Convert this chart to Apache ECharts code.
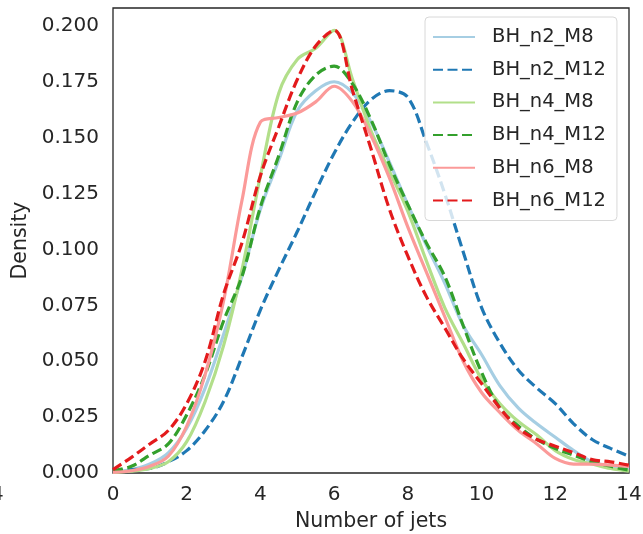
<!DOCTYPE html>
<html>
<head>
<meta charset="utf-8">
<script src="https://cdn.jsdelivr.net/npm/echarts@6/dist/echarts.min.js"></script>
<style>
html,body{margin:0;padding:0;background:#fff;}
#chart{width:643px;height:534px;}
</style>
</head>
<body>
<div id="chart"></div>
<script>
// x grid (number of jets)
const xs = [0,0.5,1,1.5,2,2.5,3,3.5,4,4.5,5,5.5,6,6.5,7,7.5,8,8.5,9,9.5,10,10.5,11,11.5,12,12.5,13,13.5,14];
const xTicks = [0,2,4,6,8,10,12,14];
const yTicks = [0,0.025,0.05,0.075,0.1,0.125,0.15,0.175,0.2];

const seriesNames = ['BH_n2_M8','BH_n2_M12','BH_n4_M8','BH_n4_M12','BH_n6_M8','BH_n6_M12'];

const n2_M8  = [0.0005,0.0015,0.004,0.009,0.020,0.038,0.062,0.088,0.118,0.140,0.162,0.171,0.175,0.170,0.157,0.139,0.120,0.102,0.085,0.066,0.053,0.039,0.029,0.022,0.016,0.010,0.005,0.003,0.002];
const n2_M12 = [0.001,0.0015,0.002,0.005,0.010,0.019,0.032,0.052,0.073,0.091,0.108,0.126,0.143,0.157,0.167,0.171,0.168,0.148,0.125,0.099,0.074,0.058,0.046,0.038,0.031,0.022,0.015,0.011,0.0075];
const n4_M8  = [0.0003,0.0008,0.002,0.005,0.014,0.032,0.057,0.091,0.133,0.170,0.185,0.190,0.198,0.176,0.153,0.135,0.117,0.095,0.074,0.058,0.042,0.031,0.023,0.017,0.010,0.006,0.004,0.002,0.0008];
const n4_M12 = [0.001,0.003,0.008,0.013,0.026,0.044,0.068,0.088,0.119,0.142,0.166,0.178,0.182,0.174,0.158,0.138,0.120,0.103,0.088,0.066,0.045,0.029,0.021,0.015,0.011,0.008,0.005,0.003,0.0013];
const n6_M8  = [0.0003,0.001,0.003,0.0075,0.021,0.044,0.077,0.122,0.157,0.159,0.161,0.166,0.173,0.166,0.151,0.132,0.110,0.090,0.070,0.050,0.036,0.027,0.019,0.013,0.0065,0.004,0.004,0.0035,0.003];
const n6_M12 = [0.0015,0.007,0.013,0.019,0.031,0.050,0.080,0.103,0.133,0.155,0.176,0.191,0.198,0.171,0.145,0.118,0.097,0.079,0.065,0.051,0.040,0.029,0.020,0.015,0.012,0.009,0.006,0.005,0.0035];

const allValues = [n2_M8,n2_M12,n4_M8,n4_M12,n6_M8,n6_M12];
const colors = ['#a6cee3','#1f78b4','#b2df8a','#33a02c','#fb9a99','#e31a1c'];
const dashed = [false,true,false,true,false,true];

const FONT = 'DejaVu Sans';
const TXT = '#262626';

const series = seriesNames.map((name,i)=>({
  name: name,
  type: 'line',
  data: xs.map((x,j)=>[x, allValues[i][j]]),
  smooth: 0.35,
  symbol: 'none',
  showSymbol: false,
  lineStyle: {color: colors[i], width: 3.2, type: dashed[i] ? [10,4.5] : 'solid'},
  itemStyle: {color: colors[i]},
  emphasis: {disabled: true}
}));

const chart = echarts.init(document.getElementById('chart'), null, {renderer:'canvas'});
chart.setOption({
  animation: false,
  backgroundColor: '#fff',
  grid: {left:113, right:14, top:8, bottom:61, containLabel:false, outerBoundsMode:'none',
         show:true, borderColor:'#262626', borderWidth:1.3, backgroundColor:'transparent'},
  xAxis: {
    type:'value', min:0, max:14, interval:2,
    name:'Number of jets', nameLocation:'middle', nameGap:38,
    nameTextStyle:{fontFamily:FONT, fontSize:20.5, color:TXT},
    axisLine:{show:false}, axisTick:{show:false}, splitLine:{show:false},
    axisLabel:{fontFamily:FONT, fontSize:20, color:TXT, margin:12,
      formatter:(v)=> xTicks.includes(v) ? String(v) : ''}
  },
  yAxis: {
    type:'value', min:0, max:0.208, interval:0.025,
    name:'Density', nameLocation:'middle', nameGap:76,
    nameTextStyle:{fontFamily:FONT, fontSize:20.5, color:TXT},
    axisLine:{show:false}, axisTick:{show:false}, splitLine:{show:false},
    axisLabel:{fontFamily:FONT, fontSize:20, color:TXT, margin:14, showMaxLabel:false,
      formatter:(v)=>{ const k=yTicks.findIndex(t=>Math.abs(t-v)<1e-9); return k>=0 ? yTicks[k].toFixed(3) : ''; }}
  },
  legend: {
    data: seriesNames,
    orient:'vertical', left:425, top:17,
    padding:[10,11,10,7],
    itemWidth:42, itemHeight:14, itemGap:12.7,
    itemStyle:{opacity:0},
    backgroundColor:'rgba(255,255,255,0.8)', borderColor:'#d8d8d8', borderWidth:1, borderRadius:4,
    textStyle:{fontFamily:FONT, fontSize:19.5, color:TXT, lineHeight:20, padding:[0,0,0,12]}
  },
  graphic: [
    {type:'text', left:-9, top:485, style:{text:'4', font:'20px "DejaVu Sans"', fill:TXT}}
  ],
  series: series
});
</script>
</body>
</html>
